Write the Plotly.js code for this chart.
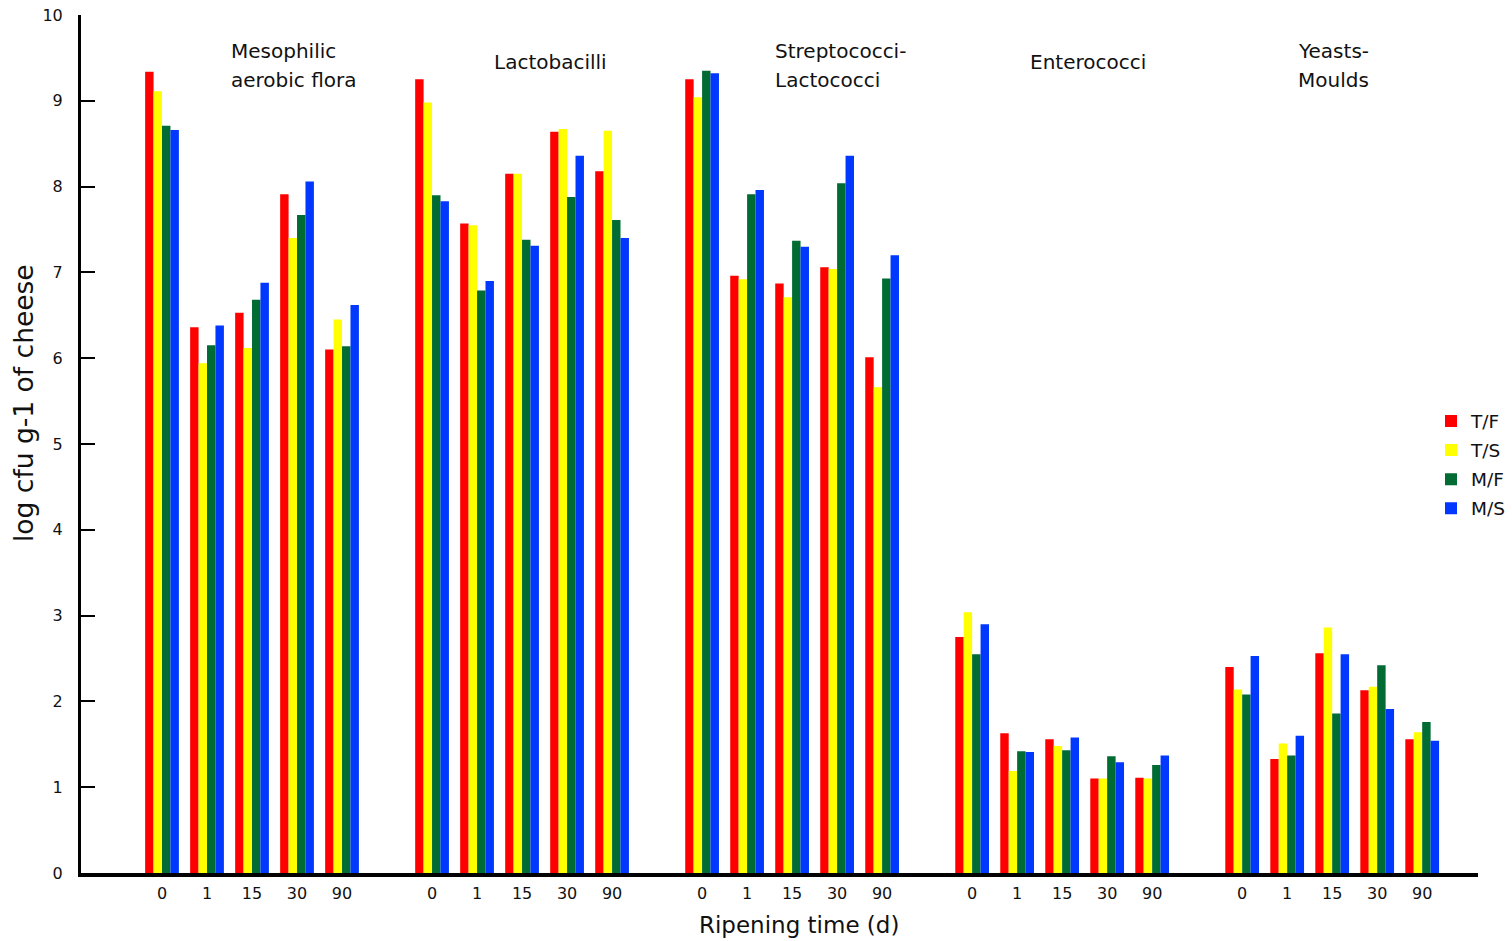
<!DOCTYPE html>
<html>
<head>
<meta charset="utf-8">
<script src="https://cdn.plot.ly/plotly-3.0.1.min.js"></script>
<style>
  html, body { margin: 0; padding: 0; background: #fff; }
  #chart { width: 1512px; height: 941px; }
</style>
</head>
<body>
<div id="chart"></div>
<script>
// ---- data ----
var groups = [['Mesophilic', 'aerobic flora'], ['Lactobacilli'], ['Streptococci-', 'Lactococci'], ['Enterococci'], ['Yeasts-', 'Moulds']];
var times = ['0', '1', '15', '30', '90'];
var seriesNames = ['T/F', 'T/S', 'M/F', 'M/S'];
var TF = [9.34, 6.36, 6.53, 7.91, 6.10,  9.25, 7.57, 8.15, 8.64, 8.18,  9.25, 6.96, 6.87, 7.06, 6.01,  2.75, 1.63, 1.56, 1.10, 1.11,  2.40, 1.33, 2.56, 2.13, 1.56];
var TS = [9.11, 5.94, 6.12, 7.40, 6.45,  8.98, 7.55, 8.15, 8.67, 8.65,  9.04, 6.92, 6.71, 7.04, 5.66,  3.04, 1.19, 1.48, 1.10, 1.10,  2.14, 1.51, 2.86, 2.17, 1.64];
var MF = [8.71, 6.15, 6.68, 7.67, 6.14,  7.90, 6.79, 7.38, 7.88, 7.61,  9.35, 7.91, 7.37, 8.04, 6.93,  2.55, 1.42, 1.43, 1.36, 1.26,  2.08, 1.37, 1.86, 2.42, 1.76];
var MS = [8.66, 6.38, 6.88, 8.06, 6.62,  7.83, 6.90, 7.31, 8.36, 7.40,  9.32, 7.96, 7.30, 8.36, 7.20,  2.90, 1.41, 1.58, 1.29, 1.37,  2.53, 1.60, 2.55, 1.91, 1.54];
var yTicks = [0, 1, 2, 3, 4, 5, 6, 7, 8, 9, 10];

// ---- styling ----
var colors = ['#ff0000', '#ffff00', '#006b33', '#0038ff'];
var FONT = '"DejaVu Sans", Verdana, sans-serif';
var slotsPerGroup = times.length + 1;

// category positions: each group occupies 5 slots followed by one empty slot
var xPos = [], tickText = [];
groups.forEach(function (g, gi) {
  times.forEach(function (t, ti) {
    xPos.push(gi * slotsPerGroup + ti);
    tickText.push(t);
  });
});

var values = [TF, TS, MF, MS];
var traces = values.map(function (v, k) {
  return {
    type: 'bar',
    name: seriesNames[k],
    x: xPos,
    y: v,
    legendgroup: seriesNames[k],
    marker: { color: colors[k], line: { width: 0 } },
    hoverinfo: 'x+y+name'
  };
});

// plot-area geometry for paper coordinates
var L = 81, R = 1478, T = 15, B = 873, W = 1512, H = 941;
function px(x) { return (x - L) / (R - L); }
function py(y) { return (B - y) / (B - T); }

// label anchor (left x, vertical centre of each line)
var labelX = [229, 492, 773, 1028, 1296];
var twoLineY = [51, 80];
var oneLineY = [62];

var annotations = [];
groups.forEach(function (lines, i) {
  var ys = lines.length === 2 ? twoLineY : oneLineY;
  lines.forEach(function (line, j) {
    annotations.push({
      text: line, xref: 'paper', yref: 'paper',
      x: px(labelX[i]), y: py(ys[j]),
      xanchor: 'left', yanchor: 'middle', align: 'left',
      showarrow: false,
      font: { family: FONT, size: 20, color: '#111' }
    });
  });
});
annotations.push({
  text: 'Ripening time (d)', xref: 'paper', yref: 'paper',
  x: px(799), y: py(925), xanchor: 'center', yanchor: 'middle',
  showarrow: false, font: { family: FONT, size: 23, color: '#111' }
});
annotations.push({
  text: 'log cfu g-1 of cheese', xref: 'paper', yref: 'paper',
  x: px(23), y: py(403), xanchor: 'center', yanchor: 'middle',
  textangle: -90, showarrow: false, font: { family: FONT, size: 26.5, color: '#111' }
});

var layout = {
  width: W, height: H,
  margin: { l: L, r: W - R, t: T, b: H - B, pad: 0, autoexpand: false },
  paper_bgcolor: '#fff', plot_bgcolor: '#fff',
  barmode: 'group', bargap: 0.25, bargroupgap: 0,
  font: { family: FONT, color: '#111' },
  xaxis: {
    range: [-1.8, 29.24],
    tickvals: xPos, ticktext: tickText,
    ticks: 'outside', ticklen: 3, tickcolor: 'rgba(0,0,0,0)',
    tickfont: { family: FONT, size: 16, color: '#111' },
    showline: true, linecolor: '#000', linewidth: 4,
    showgrid: false, zeroline: false, fixedrange: true
  },
  yaxis: {
    range: [0, 10],
    tickvals: yTicks,
    ticks: 'inside', ticklen: 14, tickwidth: 2, tickcolor: '#000',
    ticklabelstandoff: 12,
    tickfont: { family: FONT, size: 16, color: '#111' },
    showline: true, linecolor: '#000', linewidth: 3,
    showgrid: false, zeroline: false, fixedrange: true
  },
  legend: {
    x: px(1431), y: py(465), xref: 'paper', yref: 'paper',
    xanchor: 'left', yanchor: 'middle',
    bgcolor: 'rgba(0,0,0,0)', borderwidth: 0,
    font: { family: FONT, size: 18.5, color: '#111' },
    tracegroupgap: 2, itemwidth: 30
  },
  annotations: annotations,
  showlegend: true
};

Plotly.newPlot('chart', traces, layout, { displayModeBar: false, staticPlot: true });
</script>
</body>
</html>
